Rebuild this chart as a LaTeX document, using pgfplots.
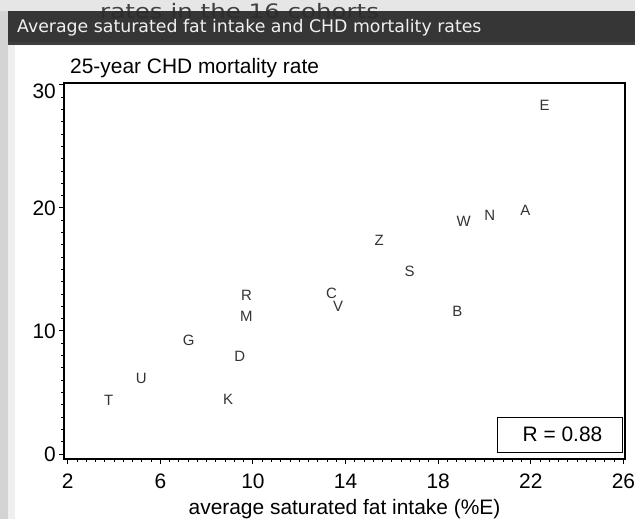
\documentclass[border=0pt]{standalone}
\usepackage{pgfplots}
\pgfplotsset{compat=1.18}
\usepackage{pgfplotstable}
\usepackage{fontspec}
\setmainfont{Liberation Sans}
\newfontfamily\dejavu{DejaVu Sans}
\definecolor{bgtop}{HTML}{E6E6E6}
\definecolor{bgleft}{HTML}{D4D4D4}
\definecolor{bgleft2}{HTML}{EFEFEF}
\definecolor{barcol}{HTML}{2B2B2B}
\definecolor{barband}{HTML}{3E3E3E}
\definecolor{ghost}{HTML}{404040}
\pgfplotstableread{
x y lab
22.60 28.37 E
21.77 19.76 A
20.23 19.37 N
19.10 18.89 W
15.45 17.34 Z
16.77 14.82 S
13.39 13.07 C
13.68 11.98 V
18.83 11.57 B
9.72 12.93 R
9.72 11.22 M
7.23 9.27 G
9.43 7.91 D
5.18 6.15 U
3.77 4.39 T
8.93 4.47 K
}\datatable
\begin{document}
\begin{tikzpicture}
\path[use as bounding box] (0bp,0bp) rectangle (635bp,519bp);
% background
\fill[bgtop] (0bp,0bp) rectangle (635bp,519bp);
\fill[bgleft] (0bp,0bp) rectangle (8bp,508bp);
\fill[bgleft2] (8bp,0bp) rectangle (15bp,474bp);
\fill[white] (15bp,0bp) rectangle (635bp,474bp);
% ghost text behind title bar
\node[anchor=base west, inner sep=0pt, text=ghost, font=\dejavu\fontsize{20}{20}\selectfont] at (100bp,500.5bp) {\scalebox{1.23}[1]{rates in the 16 cohorts}};
% title bar
\fill[barcol, opacity=0.94] (8bp,474bp) rectangle (635bp,508bp);
\fill[barband] (8bp,474bp) rectangle (635bp,476.5bp);
\node[anchor=base west, inner sep=0pt, text=white!94!black, font=\dejavu\fontsize{17.4}{17.4}\selectfont] at (17bp,486.7bp) {Average saturated fat intake and CHD mortality rates};
\coordinate (O) at (64bp,60bp);
\begin{axis}[
  at={(O)}, anchor=south west,
  scale only axis, width=561bp, height=376bp,
  xmin=1.84, xmax=26.07, ymin=-0.41, ymax=30.15,
  xtick={2,6,...,26}, ytick={0,10,20,30},
  yticklabels={0,10,20,\rule{0pt}{27bp}30},
  minor x tick num=9, minor y tick num=9,
  tick align=outside, xtick pos=bottom, ytick pos=left,
  major tick length=5bp, minor tick length=3bp,
  tick style={black, line width=0.9bp},
  axis line style={black, line width=1.4bp},
  /pgf/number format/assume math mode=true,
  tick label style={font=\fontsize{21}{21}\selectfont, inner sep=1bp},
  xticklabel style={yshift=-9bp},
  yticklabel style={xshift=-2bp},
  clip=false,
]
\addplot[only marks, mark=*, mark size=0pt, mark options={draw=none, fill=none},
  nodes near coords, point meta=explicit symbolic,
  every node near coord/.style={anchor=center, inner sep=0pt, text=black!80, font=\fontsize{15}{15}\selectfont}]
  table[x=x, y=y, meta=lab] {\datatable};
\draw[black, line width=0.9bp] (rel axis cs:0.772,0.0186) rectangle (rel axis cs:0.9947,0.1117);
\node[anchor=center, inner sep=0pt, font=\fontsize{21}{21}\selectfont] at (rel axis cs:0.8886,0.0652) {R = 0.88};
\end{axis}
\node[anchor=base west, inner sep=0pt, font=\fontsize{21}{21}\selectfont] at (70bp,445.7bp) {25-year CHD mortality rate};
\node[anchor=base, inner sep=0pt, font=\fontsize{21}{21}\selectfont] at (344.5bp,5bp) {average saturated fat intake (\%E)};
\end{tikzpicture}
\end{document}
